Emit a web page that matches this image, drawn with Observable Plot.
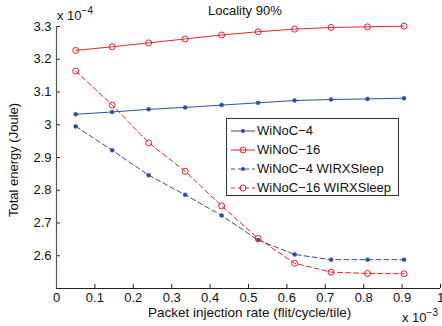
<!DOCTYPE html>
<html><head><meta charset="utf-8">
<script src="https://cdn.jsdelivr.net/npm/d3@7"></script>
<script src="https://cdn.jsdelivr.net/npm/@observablehq/plot@0.6"></script>
<style>
body{margin:0;background:#fff;font-family:"Liberation Sans",Arial,sans-serif;}
#wrap{position:relative;width:442px;height:326px;overflow:hidden;}
.lbl{position:absolute;font-size:13px;color:#111;white-space:nowrap;line-height:14px;}
#legend{position:absolute;left:226px;top:118px;width:173px;height:78px;border:1px solid #333;background:#fff;box-sizing:border-box;}
.row{position:absolute;left:0;height:19px;font-size:13px;color:#111;}
.row svg{position:absolute;left:3px;top:0;}
.row span{position:absolute;left:30px;top:1px;white-space:nowrap;}
sup{font-size:10px;vertical-align:6px;line-height:0;}
</style></head>
<body><div id="wrap"></div>
<script>
const rate = [0.05, 0.145, 0.24, 0.335, 0.43, 0.525, 0.62, 0.715, 0.81, 0.905];
const winoc4 = [3.032, 3.039, 3.047, 3.053, 3.060, 3.067, 3.074, 3.077, 3.079, 3.081];
const winoc16 = [3.227, 3.238, 3.250, 3.262, 3.274, 3.284, 3.292, 3.297, 3.299, 3.301];
const winoc4Sleep = [2.995, 2.922, 2.846, 2.786, 2.723, 2.648, 2.604, 2.588, 2.588, 2.588];
const winoc16Sleep = [3.164, 3.060, 2.945, 2.858, 2.752, 2.653, 2.577, 2.550, 2.546, 2.545];
const seriesNames = ["WiNoC\u22124", "WiNoC\u221216", "WiNoC\u22124 WIRXSleep", "WiNoC\u221216 WIRXSleep"];
const xTicks = [0, 0.1, 0.2, 0.3, 0.4, 0.5, 0.6, 0.7, 0.8, 0.9, 1];
const yTicks = [2.6, 2.7, 2.8, 2.9, 3, 3.1, 3.2, 3.3];

const blue = "#2f4f9f", red = "#e8232b";
const styles = [
  {color: blue, dash: null, marker: "dot"},
  {color: red, dash: null, marker: "circle"},
  {color: blue, dash: "5,3", marker: "dot"},
  {color: red, dash: "5,3", marker: "circle"}
];
const allSeries = [winoc4, winoc16, winoc4Sleep, winoc16Sleep];
const fmt = d => String(+d.toFixed(1)).replace("-", "\u2212");

const marks = [];
allSeries.forEach((vals, k) => {
  const data = rate.map((r, i) => ({x: r, y: vals[i]}));
  const s = styles[k];
  marks.push(Plot.line(data, {x: "x", y: "y", stroke: s.color, strokeWidth: 1, strokeDasharray: s.dash}));
  if (s.marker === "dot") marks.push(Plot.dot(data, {x: "x", y: "y", r: 2, fill: s.color, stroke: s.color, strokeWidth: 0.5}));
  else marks.push(Plot.dot(data, {x: "x", y: "y", r: 3, fill: "none", stroke: s.color, strokeWidth: 1}));
});

const plot = Plot.plot({
  width: 442, height: 326,
  marginLeft: 56, marginRight: 2, marginTop: 26, marginBottom: 38,
  style: {fontFamily: "Liberation Sans, Arial, sans-serif", fontSize: "13px", color: "#111", background: "transparent"},
  x: {domain: [0, 1]},
  y: {domain: [2.5, 3.3]},
  marks: [
    Plot.axisX(xTicks, {tickSize: 0, tickPadding: 4, tickFormat: fmt, label: null, fontSize: 13}),
    Plot.axisY(yTicks, {tickSize: 0, tickPadding: 5, tickFormat: fmt, label: null, fontSize: 13}),
    Plot.ruleX(xTicks, {x: d => d, y1: 2.5, y2: 2.5, insetTop: -4, stroke: "#222"}),
    Plot.ruleY(yTicks, {y: d => d, x1: 0, x2: 0, insetRight: -4, stroke: "#222"}),
    Plot.ruleY([2.5], {stroke: "#222"}),
    Plot.ruleX([0], {stroke: "#555", strokeWidth: 1.2}),
    ...marks
  ]
});
const wrap = document.getElementById("wrap");
plot.style.position = "absolute"; plot.style.left = "0"; plot.style.top = "0";
wrap.appendChild(plot);

function addLabel(html, css) {
  const d = document.createElement("div");
  d.className = "lbl"; d.innerHTML = html;
  Object.assign(d.style, css);
  wrap.appendChild(d);
  return d;
}
addLabel("Locality 90%", {left: "208px", top: "4px"});
addLabel("Packet injection rate (flit/cycle/tile)", {left: "148px", top: "306px", fontSize: "13.5px"});
addLabel("Total energy (Joule)", {left: "14px", top: "160px", transform: "translate(-50%,-50%) rotate(-90deg)", transformOrigin: "center"});
addLabel("x 10<sup>\u22124</sup>", {left: "57px", top: "9px"});
addLabel("x 10<sup>\u22123</sup>", {left: "402px", top: "311px"});

const leg = document.createElement("div"); leg.id = "legend"; wrap.appendChild(leg);
seriesNames.forEach((name, k) => {
  const s = styles[k];
  const row = document.createElement("div"); row.className = "row";
  row.style.top = (3 + k * 19) + "px"; row.style.width = "170px";
  const mk = s.marker === "dot"
    ? `<circle cx="13" cy="9" r="2" fill="${s.color}"/>`
    : `<circle cx="13" cy="9" r="3" fill="none" stroke="${s.color}"/>`;
  row.innerHTML = `<svg width="26" height="19"><line x1="1" x2="25" y1="9" y2="9" stroke="${s.color}" ${s.dash ? 'stroke-dasharray="4,3"' : ''}/>${mk}</svg><span>${name}</span>`;
  leg.appendChild(row);
});
</script></body></html>
